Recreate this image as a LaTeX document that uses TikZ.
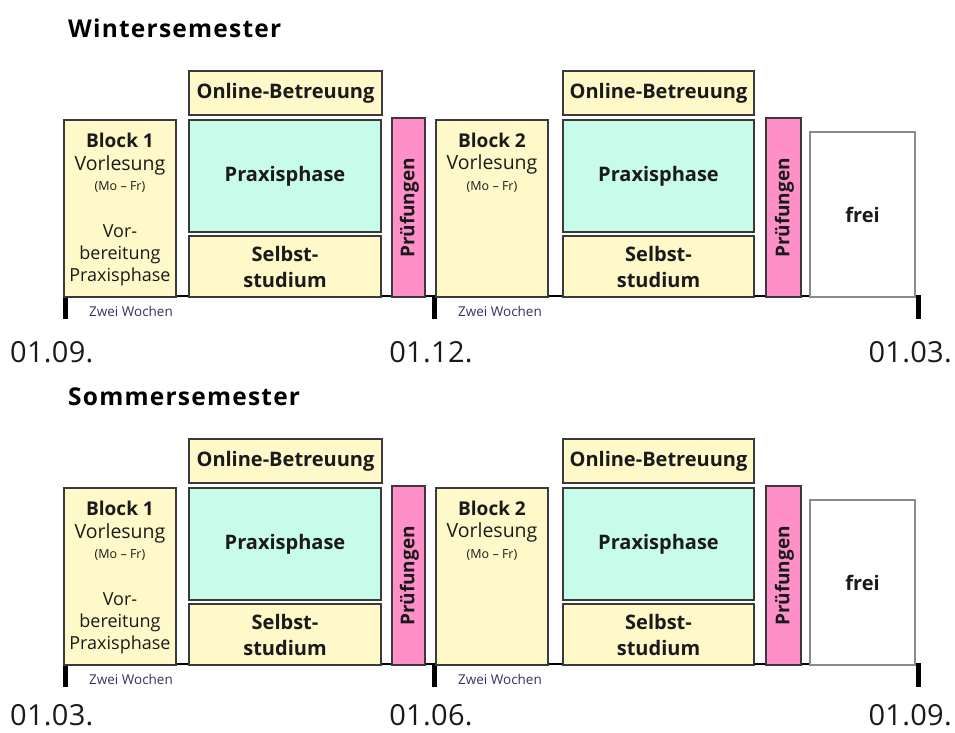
\documentclass[tikz,border=0pt]{standalone}
\usepackage{fontspec}
\setmainfont{Open Sans}
\newfontfamily\ttlfont[LetterSpace=5]{Open Sans}
\newfontfamily\datefont[LetterSpace=1]{Open Sans}
\definecolor{ylw}{HTML}{FFF8C8}
\definecolor{cyn}{HTML}{C8FCEA}
\definecolor{pnk}{HTML}{FF8FC8}
\definecolor{boxline}{HTML}{3A3A3A}
\definecolor{freiline}{HTML}{8A8A8A}
\definecolor{txt}{HTML}{1A1A1A}
\definecolor{smalltxt}{HTML}{3A3060}
\tikzset{
  box/.style={draw=boxline, line width=1.4pt, inner sep=0pt, outer sep=0pt, text=txt, align=center},
  ybox/.style={box, fill=ylw},
  cbox/.style={box, fill=cyn},
  pbox/.style={box, fill=pnk},
  fbox/.style={box, draw=freiline, fill=white},
  lbl/.style={inner sep=0pt, text=txt, align=center},
  bigb/.style={font=\fontsize{20}{24}\selectfont\bfseries},
  blk/.style={font=\fontsize{19}{22}\selectfont\bfseries},
  midt/.style={font=\fontsize{19.5}{22}\selectfont},
  tiny/.style={font=\fontsize{12.5}{14}\selectfont},
  zw/.style={inner sep=0pt, text=smalltxt, font=\fontsize{13.5}{15}\selectfont},
  datelbl/.style={inner sep=0pt, text depth=0pt, text=txt, font=\datefont\fontsize{29}{32}\selectfont},
  ttl/.style={inner sep=0pt, text=black, font=\ttlfont\fontsize{24.5}{28}\selectfont\bfseries},
  tick/.style={line width=5pt, black},
  axis/.style={line width=1.5pt, black}
}
\begin{document}
\begin{tikzpicture}[x=1pt,y=-1pt]
\useasboundingbox (0,0) rectangle (955,732);
\foreach \s/\dy/\title/\da/\db/\dc/\dyy in {w/0/Wintersemester/01.09./01.12./01.03./362, s/368/Sommersemester/01.03./01.06./01.09./357}{
  \begin{scope}[yshift=-\dy pt]
    \node[ttl, anchor=base west] (title\s) at (68,37) {\title};
    % axis
    \coordinate (axL\s) at (64,296);
    \coordinate (axR\s) at (918,296);
    \draw[axis] (axL\s) -- (axR\s);
    \coordinate (t1a\s) at (65,295); \coordinate (t1b\s) at (65,319);
    \coordinate (t2a\s) at (434,295); \coordinate (t2b\s) at (434,319);
    \coordinate (t3a\s) at (918,295); \coordinate (t3b\s) at (918,319);
    \draw[tick] (t1a\s) -- (t1b\s);
    \draw[tick] (t2a\s) -- (t2b\s);
    \draw[tick] (t3a\s) -- (t3b\s);
    % first half
    \node[ybox, minimum width=193pt, minimum height=44pt, bigb] (onA\s) at (285.5,93) {Online-Betreuung};
    \node[ybox, minimum width=112pt, minimum height=177pt] (bA\s) at (120,208.5) {};
    \node[cbox, minimum width=192pt, minimum height=112pt, bigb] (ppA\s) at (285,176) {Praxisphase};
    \node[ybox, minimum width=192pt, minimum height=61pt, font=\fontsize{20}{26}\selectfont\bfseries] (ssA\s) at (285,266.5) {Selbst-\\studium};
    \node[pbox, minimum width=33pt, minimum height=179pt] (prA\s) at (408.5,207.5) {};
    \node[lbl, rotate=90, font=\fontsize{19}{22}\selectfont\bfseries] (prAt\s) at (409.5,208) {Prüfungen};
    \node[lbl, blk] (bAt1\s) at (120,140) {Block 1};
    \node[lbl, midt] (bAt2\s) at (120,165) {Vorlesung};
    \node[lbl, tiny] (bAt3\s) at (120,187) {(Mo – Fr)};
    \node[lbl, font=\fontsize{18}{22}\selectfont] (bAt4\s) at (120,255) {Vor-\\bereitung\\Praxisphase};
    \node[zw] (zwA\s) at (131,311) {Zwei Wochen};
    % second half
    \node[ybox, minimum width=112pt, minimum height=177pt] (bB\s) at (492,208.5) {};
    \node[lbl, blk] (bBt1\s) at (492,140) {Block 2};
    \node[lbl, midt] (bBt2\s) at (492,164) {Vorlesung};
    \node[lbl, tiny] (bBt3\s) at (492,187) {(Mo – Fr)};
    \node[zw] (zwB\s) at (500,311) {Zwei Wochen};
    \node[ybox, minimum width=191pt, minimum height=44pt, bigb] (onB\s) at (658.5,93) {Online-Betreuung};
    \node[cbox, minimum width=191pt, minimum height=112pt, bigb] (ppB\s) at (658.5,176) {Praxisphase};
    \node[ybox, minimum width=191pt, minimum height=61pt, font=\fontsize{20}{26}\selectfont\bfseries] (ssB\s) at (658.5,266.5) {Selbst-\\studium};
    \node[pbox, minimum width=35pt, minimum height=179pt] (prB\s) at (783.5,207.5) {};
    \node[lbl, rotate=90, font=\fontsize{19}{22}\selectfont\bfseries] (prBt\s) at (784.5,208) {Prüfungen};
    \node[fbox, minimum width=105pt, minimum height=165pt, bigb] (fr\s) at (862.5,214.5) {frei};
    % dates
    \node[datelbl, anchor=base west] (dA\s) at (10,\dyy) {\da};
    \node[datelbl, anchor=base] (dB\s) at (431,\dyy) {\db};
    \node[datelbl, anchor=base east] (dC\s) at (952,\dyy) {\dc};
  \end{scope}
}
\end{tikzpicture}
\end{document}
